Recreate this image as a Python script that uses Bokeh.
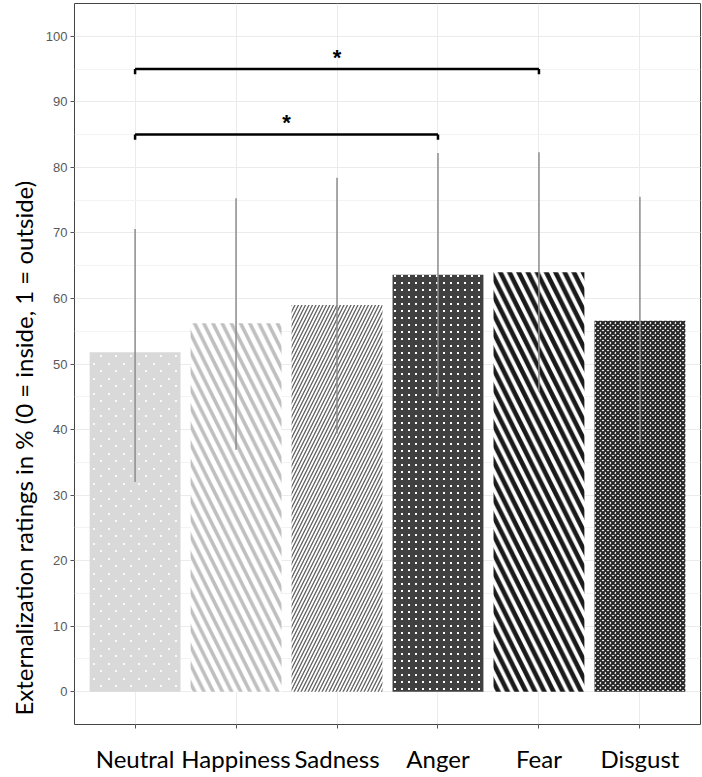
import base64
import struct
import zlib
import numpy as np
from bokeh.plotting import figure
from bokeh.models import (ColumnDataSource, Range1d, FixedTicker, SingleIntervalTicker,
                          Title, ImageURLTexture)
from bokeh.embed import file_html
from bokeh.resources import INLINE
from bokeh.core.properties import value

# ---------------- data ----------------
categories = ["Neutral", "Happiness", "Sadness", "Anger", "Fear", "Disgust"]
means = [51.8, 56.2, 59.0, 63.6, 64.0, 56.6]
err_upper = [70.6, 75.3, 78.4, 82.2, 82.3, 75.5]
err_lower = [32.0, 36.9, 39.4, 45.0, 45.8, 37.7]

bracket_from = ["Neutral", "Neutral"]
bracket_to = ["Anger", "Fear"]
bracket_y = [85, 95]
bracket_text = ["*", "*"]

y_title = "Externalization ratings in % (0 = inside, 1 = outside)"


# ---------------- texture helper (tiny PNG tile with white dots) ----------------
def dot_tile(w, h, dots, dot, rgba=(255, 255, 255, 255)):
    px = [[(0, 0, 0, 0)] * w for _ in range(h)]
    for (cx, cy) in dots:
        for j in range(cy, cy + dot):
            for i in range(cx, cx + dot):
                px[j % h][i % w] = rgba
    raw = b"".join(b"\x00" + b"".join(bytes(c) for c in row) for row in px)

    def chunk(t, d):
        c = struct.pack(">I", len(d)) + t + d
        return c + struct.pack(">I", zlib.crc32(t + d) & 0xffffffff)

    png = b"\x89PNG\r\n\x1a\n"
    png += chunk(b"IHDR", struct.pack(">IIBBBBB", w, h, 8, 6, 0, 0, 0))
    png += chunk(b"IDAT", zlib.compress(raw))
    png += chunk(b"IEND", b"")
    return "data:image/png;base64," + base64.b64encode(png).decode()


neutral_tex = ImageURLTexture(url=dot_tile(15, 15, [(3, 3), (10, 10)], 2,
                                           (250, 250, 250, 255)))
anger_tex = ImageURLTexture(url=dot_tile(7, 7, [(2, 2)], 2))

# ---------------- styles ----------------
fill_colors = ["#d9d9d9", "#ffffff", "#ffffff", "#404040", "#ffffff", "#ffffff"]
hatch_patterns = ["neutraldots", "left_diagonal_line", "right_diagonal_line", "angerdots",
                  "left_diagonal_line", "diagonal_cross"]
hatch_colors = ["#ffffff", "#bfbfbf", "#606060", "#ffffff", "#1a1a1a", "#262626"]
hatch_scales = [15, 18.4, 7, 7, 18.4, 5]
hatch_weights = [1, 3.6, 1.3, 1, 4.6, 2.2]

x = np.arange(1, len(categories) + 1)
pos = {c: i + 1 for i, c in enumerate(categories)}

src = ColumnDataSource(dict(
    x=x, mean=means, up=err_upper, lo=err_lower,
    fill=fill_colors, hatch=hatch_patterns, hcolor=hatch_colors,
    hscale=hatch_scales, hweight=hatch_weights,
))

p = figure(width=702, height=777,
           x_range=Range1d(0.4, len(categories) + 0.6),
           y_range=Range1d(-5, 105),
           output_backend="svg", toolbar_location=None,
           min_border_left=74, min_border_right=2,
           min_border_top=3, min_border_bottom=53)
p.background_fill_color = "white"
p.border_fill_color = "white"
p.outline_line_color = "#444444"
p.outline_line_width = 1

# grids
p.ygrid.ticker = SingleIntervalTicker(interval=10, num_minor_ticks=2)
p.ygrid.grid_line_color = "#ebebeb"
p.ygrid.minor_grid_line_color = "#f3f3f3"
p.xgrid.ticker = FixedTicker(ticks=list(x))
p.xgrid.grid_line_color = "#ebebeb"

# axes
p.yaxis.ticker = SingleIntervalTicker(interval=10, num_minor_ticks=2)
p.yaxis.minor_tick_line_color = None
p.yaxis.axis_line_color = None
p.yaxis.major_tick_line_color = "#555555"
p.yaxis.major_tick_out = 4
p.yaxis.major_tick_in = 0
p.yaxis.major_label_standoff = 3
p.yaxis.major_label_text_font = "Liberation Sans"
p.yaxis.major_label_text_font_size = "13px"
p.yaxis.major_label_text_color = "#595959"

p.xaxis.ticker = FixedTicker(ticks=list(x))
p.xaxis.major_label_overrides = {int(i): c for i, c in zip(x, categories)}
p.xaxis.minor_tick_line_color = None
p.xaxis.axis_line_color = None
p.xaxis.major_tick_line_color = "#555555"
p.xaxis.major_tick_out = 4
p.xaxis.major_tick_in = 0
p.xaxis.major_label_standoff = 15
p.xaxis.major_label_text_font = "Lato"
p.xaxis.major_label_text_font_size = "24px"
p.xaxis.major_label_text_color = "black"

p.add_layout(Title(text=y_title, align="left", offset=9,
                   text_font="Lato", text_font_size="24px",
                   text_font_style="normal", text_color="black",
                   standoff=9), "left")

# bars
p.vbar(x="x", top="mean", bottom=0, width=0.9, source=src,
       fill_color="fill", line_color=None,
       hatch_pattern="hatch", hatch_color="hcolor",
       hatch_scale="hscale", hatch_weight="hweight",
       hatch_extra={"neutraldots": neutral_tex, "angerdots": anger_tex})

# error bars
p.segment(x0="x", y0="lo", x1="x", y1="up", source=src,
          line_color="#8c8c8c", line_width=1.5)

# significance brackets
tip = 0.8
bx0 = [pos[a] for a in bracket_from]
bx1 = [pos[b] for b in bracket_to]
bmid = [(a + b) / 2 for a, b in zip(bx0, bx1)]
bsrc = ColumnDataSource(dict(x0=bx0, x1=bx1, y=bracket_y,
                             ytip=[v - tip for v in bracket_y],
                             mid=bmid, txt=bracket_text))
p.segment(x0="x0", y0="y", x1="x1", y1="y", source=bsrc,
          line_color="black", line_width=2.5)
p.segment(x0="x0", y0="y", x1="x0", y1="ytip", source=bsrc,
          line_color="black", line_width=2.5)
p.segment(x0="x1", y0="y", x1="x1", y1="ytip", source=bsrc,
          line_color="black", line_width=2.5)
p.text(x="mid", y="y", text="txt", source=bsrc,
       text_align="center", text_baseline="alphabetic", y_offset=-12,
       text_font=value("Liberation Sans"), text_font_style="bold",
       text_font_size="22px", text_color="black")

open("out.html", "w").write(file_html(p, INLINE))
